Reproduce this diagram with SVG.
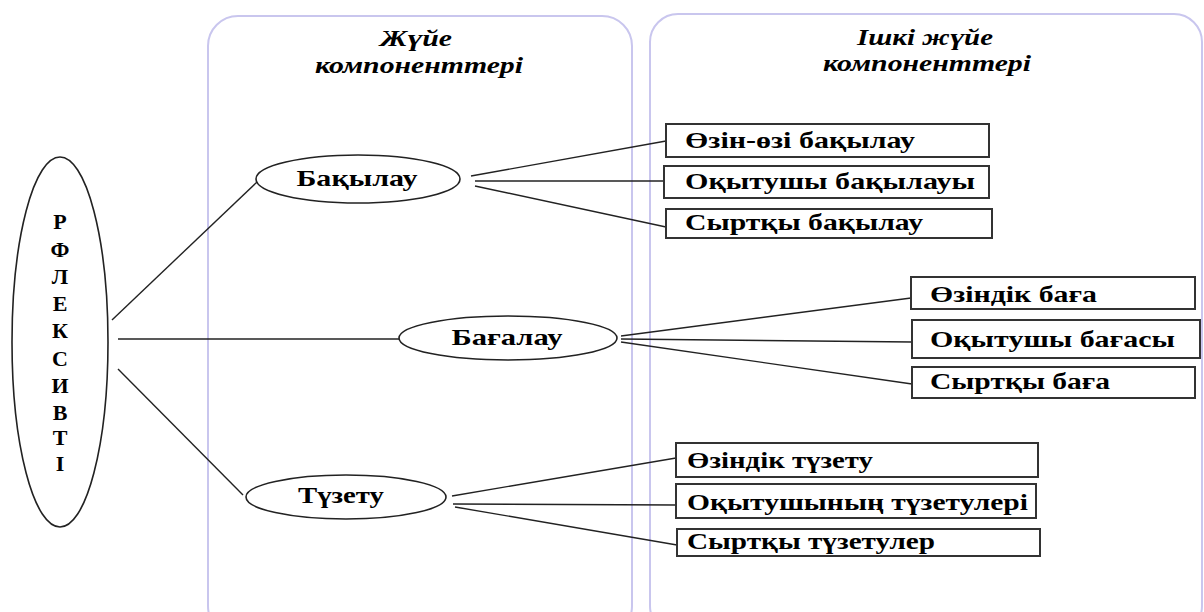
<svg xmlns="http://www.w3.org/2000/svg" width="1204" height="612" viewBox="0 0 1204 612">
<style>
.panel{fill:none;stroke:#c9c6ee;stroke-width:2}
.hdr{font-family:"Liberation Serif",serif;font-weight:bold;font-style:italic;font-size:24px;fill:#000;text-anchor:middle}
.lbl{font-family:"Liberation Serif",serif;font-weight:bold;font-size:23px;fill:#000}
.mid{text-anchor:middle}
.ltr{font-size:22px}
.ell{fill:#fff;stroke:#222;stroke-width:1.6}
.box{fill:#fff;stroke:#333;stroke-width:2}
.con line{stroke:#222;stroke-width:1.4}
</style>
<rect width="1204" height="612" fill="#fff"/>
<g id="panels">
<rect class="panel" x="208" y="16" width="424" height="620" rx="30"/>
<rect class="panel" x="650" y="14" width="552" height="620" rx="28"/>
<text class="hdr" x="416" y="46" textLength="72" lengthAdjust="spacingAndGlyphs">Жүйе</text>
<text class="hdr" x="419" y="73" textLength="208" lengthAdjust="spacingAndGlyphs">компоненттері</text>
<text class="hdr" x="925" y="45" textLength="136" lengthAdjust="spacingAndGlyphs">Ішкі жүйе</text>
<text class="hdr" x="927" y="71" textLength="208" lengthAdjust="spacingAndGlyphs">компоненттері</text>
</g>
<g class="con" id="connectors">
<line x1="112" y1="320" x2="257" y2="182"/>
<line x1="118" y1="339" x2="399" y2="339"/>
<line x1="118" y1="369" x2="243" y2="495"/>
<line x1="471" y1="176" x2="666" y2="141"/>
<line x1="475" y1="181" x2="664" y2="181"/>
<line x1="475" y1="186" x2="666" y2="227"/>
<line x1="621" y1="336" x2="911" y2="298"/>
<line x1="621" y1="339" x2="912" y2="342"/>
<line x1="621" y1="342" x2="912" y2="384"/>
<line x1="452" y1="496" x2="676" y2="458"/>
<line x1="453" y1="504" x2="676" y2="505"/>
<line x1="455" y1="507" x2="677" y2="545"/>
</g>
<g id="reflexivity">
<ellipse class="ell" cx="60" cy="342" rx="48" ry="185"/>
<text class="lbl mid ltr" x="60" y="229">Р</text>
<text class="lbl mid ltr" x="60" y="257">Ф</text>
<text class="lbl mid ltr" x="60" y="284">Л</text>
<text class="lbl mid ltr" x="60" y="311">Е</text>
<text class="lbl mid ltr" x="60" y="338">К</text>
<text class="lbl mid ltr" x="60" y="366">С</text>
<text class="lbl mid ltr" x="60" y="393">И</text>
<text class="lbl mid ltr" x="60" y="420">В</text>
<text class="lbl mid ltr" x="60" y="445">Т</text>
<text class="lbl mid ltr" x="60" y="471">І</text>
</g>
<g id="control">
<ellipse class="ell" cx="358" cy="179" rx="102" ry="24"/>
<text class="lbl mid" x="357" y="186" textLength="121" lengthAdjust="spacingAndGlyphs">Бақылау</text>
</g>
<g id="assessment">
<ellipse class="ell" cx="508" cy="338" rx="109" ry="22"/>
<text class="lbl mid" x="507" y="345" textLength="111" lengthAdjust="spacingAndGlyphs">Бағалау</text>
</g>
<g id="correction">
<ellipse class="ell" cx="346" cy="497" rx="100" ry="22"/>
<text class="lbl mid" x="341" y="503" textLength="86" lengthAdjust="spacingAndGlyphs">Түзету</text>
</g>
<g id="c1"><rect class="box" x="666" y="124" width="323" height="33"/><text class="lbl" x="685" y="148" textLength="230" lengthAdjust="spacingAndGlyphs">Өзін-өзі бақылау</text></g>
<g id="c2"><rect class="box" x="664" y="166" width="325" height="32"/><text class="lbl" x="685" y="189" textLength="290" lengthAdjust="spacingAndGlyphs">Оқытушы бақылауы</text></g>
<g id="c3"><rect class="box" x="666" y="209" width="326" height="29"/><text class="lbl" x="685" y="230" textLength="238" lengthAdjust="spacingAndGlyphs">Сыртқы бақылау</text></g>
<g id="a1"><rect class="box" x="911" y="277" width="284" height="32"/><text class="lbl" x="930" y="302" textLength="167" lengthAdjust="spacingAndGlyphs">Өзіндік баға</text></g>
<g id="a2"><rect class="box" x="912" y="320" width="288" height="38"/><text class="lbl" x="930" y="347" textLength="245" lengthAdjust="spacingAndGlyphs">Оқытушы бағасы</text></g>
<g id="a3"><rect class="box" x="912" y="367" width="283" height="31"/><text class="lbl" x="930" y="389" textLength="180" lengthAdjust="spacingAndGlyphs">Сыртқы баға</text></g>
<g id="k1"><rect class="box" x="676" y="443" width="362" height="34"/><text class="lbl" x="687" y="468" textLength="186" lengthAdjust="spacingAndGlyphs">Өзіндік түзету</text></g>
<g id="k2"><rect class="box" x="676" y="484" width="360" height="34"/><text class="lbl" x="687" y="510" textLength="341" lengthAdjust="spacingAndGlyphs">Оқытушының түзетулері</text></g>
<g id="k3"><rect class="box" x="677" y="529" width="363" height="27"/><text class="lbl" x="687" y="549" textLength="248" lengthAdjust="spacingAndGlyphs">Сыртқы түзетулер</text></g>
</svg>
